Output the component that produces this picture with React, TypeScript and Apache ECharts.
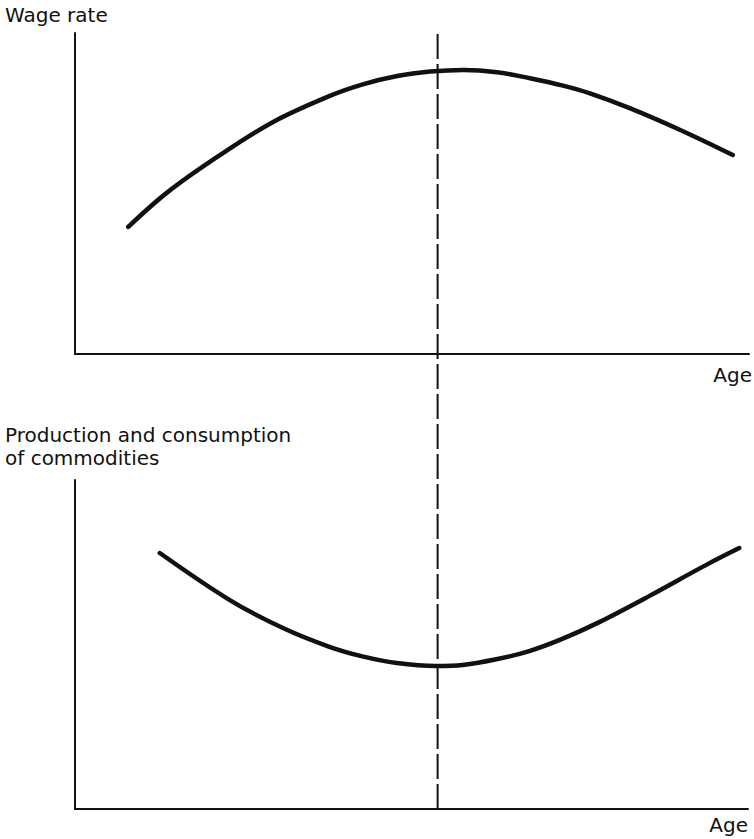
import React, { useEffect, useRef } from "react";
import * as echarts from "echarts";

// Age on a 0–100 relative scale (horizontal axis, shared by both panels)
const ageTop = [7.9, 13.6, 21.1, 29.4, 37.8, 42.7, 47.8, 52.7, 57.6, 62.6, 67.5, 72.4, 76.4, 82.3, 89.8, 97.6];
const wageRate = [39.6, 50.2, 61.4, 72.3, 80.4, 84.0, 86.6, 88.0, 88.5, 87.8, 85.9, 83.6, 81.2, 76.6, 69.8, 62.0];

const ageBottom = [12.6, 23.0, 30.9, 37.8, 42.7, 47.8, 53.7, 57.6, 62.6, 67.5, 72.4, 77.9, 85.3, 93.8, 98.7];
const commodities = [77.8, 63.5, 55.0, 49.3, 46.4, 44.4, 43.5, 43.8, 45.5, 48.0, 51.7, 56.8, 64.7, 74.2, 79.3];

const peakAge = 53.8;

const topTitle = "Wage rate";
const bottomTitle = "Production and consumption\nof commodities";
const xTitle = "Age";

const FONT = "DejaVu Sans";
const INK = "#111";

export default function App() {
  const ref = useRef<HTMLDivElement>(null);

  useEffect(() => {
    document.body.style.margin = "0";
    if (!ref.current) return;
    const chart = echarts.init(ref.current, undefined, { renderer: "svg" });

    const axisLine = { show: true, onZero: false, lineStyle: { color: INK, width: 2 } };
    const hiddenBits = {
      axisTick: { show: false },
      axisLabel: { show: false },
      splitLine: { show: false },
    };

    const textStyle = (text: string, align: string, vAlign = "middle") => ({
      text,
      fill: INK,
      fontFamily: FONT,
      fontSize: 20,
      lineHeight: 23,
      align,
      verticalAlign: vAlign,
    });

    const curveStyle = { color: INK, width: 4.5, cap: "round", join: "round" };

    chart.setOption({
      animation: false,
      backgroundColor: "#fff",
      grid: [
        { left: 75, right: 5, top: 33, bottom: 485 },
        { left: 75, right: 6, top: 480, bottom: 30 },
        { left: 75, right: 5, top: 34, bottom: 30 },
      ],
      xAxis: [
        { type: "value", gridIndex: 0, min: 0, max: 100, axisLine, ...hiddenBits },
        { type: "value", gridIndex: 1, min: 0, max: 100, axisLine, ...hiddenBits },
        { type: "value", gridIndex: 2, min: 0, max: 100, show: false },
      ],
      yAxis: [
        { type: "value", gridIndex: 0, min: 0, max: 100, axisLine, ...hiddenBits },
        { type: "value", gridIndex: 1, min: 0, max: 100, axisLine, ...hiddenBits },
        { type: "value", gridIndex: 2, min: 0, max: 100, show: false },
      ],
      series: [
        {
          type: "line",
          name: topTitle,
          xAxisIndex: 0,
          yAxisIndex: 0,
          data: ageTop.map((a, i) => [a, wageRate[i]]),
          smooth: 0.35,
          showSymbol: false,
          lineStyle: curveStyle,
        },
        {
          type: "line",
          name: "Production and consumption of commodities",
          xAxisIndex: 1,
          yAxisIndex: 1,
          data: ageBottom.map((a, i) => [a, commodities[i]]),
          smooth: 0.35,
          showSymbol: false,
          lineStyle: curveStyle,
        },
        {
          type: "line",
          name: "Peak",
          xAxisIndex: 2,
          yAxisIndex: 2,
          data: [
            [peakAge, 0],
            [peakAge, 100],
          ],
          showSymbol: false,
          lineStyle: { color: INK, width: 2, type: [25, 5] },
        },
      ],
      graphic: [
        { type: "text", x: 5, y: 15, style: textStyle(topTitle, "left") },
        { type: "text", x: 752, y: 375, style: textStyle(xTitle, "right") },
        { type: "text", x: 5, y: 423, style: textStyle(bottomTitle, "left", "top") },
        { type: "text", x: 748, y: 825, style: textStyle(xTitle, "right") },
      ],
    });

    return () => chart.dispose();
  }, []);

  return <div ref={ref} style={{ width: 754, height: 839 }} />;
}
